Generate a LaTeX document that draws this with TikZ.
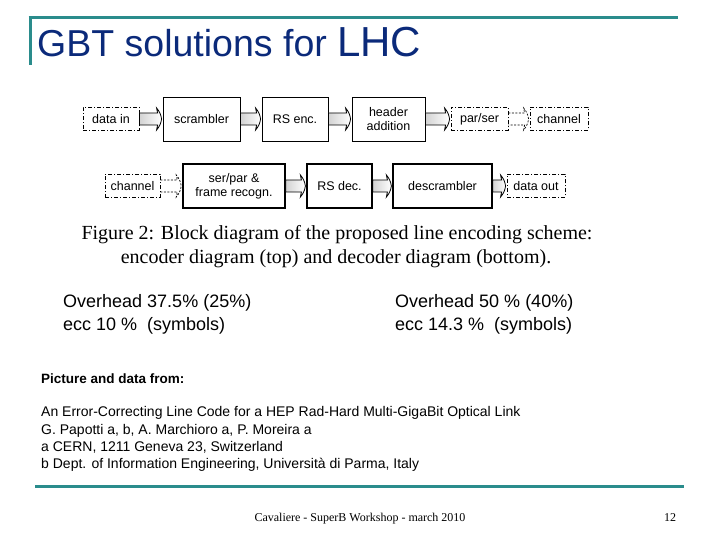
\documentclass[tikz,border=0pt]{standalone}
\usepackage{fontspec}
\setmainfont{Liberation Sans}
\newfontfamily\timesfont{Liberation Serif}
\usetikzlibrary{calc}

\definecolor{slideteal}{HTML}{2A8C8C}
\definecolor{titleblue}{HTML}{0B2A7A}

\tikzset{
  blk/.style={draw, line width=0.8pt, minimum height=44pt, inner sep=0pt,
    font=\fontsize{12.5}{14}\selectfont, align=center},
  dblk/.style={blk, dash pattern=on 4pt off 2pt on 1pt off 2pt, minimum height=23pt},
  blockarrow/.style={draw, line width=0.8pt, left color=gray!35, middle color=white, right color=white},
  dasharrow/.style={draw, line width=0.7pt, dash pattern=on 2pt off 1.5pt},
  txt/.style={anchor=base west, inner sep=0pt},
}

% hollow block arrow from one box to the next
\newcommand{\blockarr}[2]{%
  \draw[blockarrow] ($(#1.east)+(0,-6)$) -- ($(#2.west)+(-5,-6)$)
    -- ($(#2.west)+(-6,-11)$) to[bend left=15] ($(#2.west)+(-1,0)$)
    to[bend left=15] ($(#2.west)+(-6,11)$)
    -- ($(#2.west)+(-5,6)$) -- ($(#1.east)+(0,6)$) -- cycle;}
% dashed version, for the serial link
\newcommand{\dasharr}[2]{%
  \draw[dasharrow] ($(#1.east)+(0,-6)$) -- ($(#2.west)+(-5,-6)$)
    -- ($(#2.west)+(-6,-11)$) to[bend left=15] ($(#2.west)+(-1,0)$)
    to[bend left=15] ($(#2.west)+(-6,11)$)
    -- ($(#2.west)+(-5,6)$) -- ($(#1.east)+(0,6)$);}

\begin{document}
\begin{tikzpicture}[x=1pt,y=-1pt]
    \useasboundingbox (0,0) rectangle (720,540);

    % draw frame lines
    \draw[slideteal, line width=3pt] (28.5,18) -- (678,18);
    \draw[slideteal, line width=3pt] (30,16.5) -- (30,65);
    \draw[slideteal, line width=3pt] (35,486) -- (684,486);

    % title
    \node[txt, text=titleblue, font=\fontsize{37.5}{40}\selectfont] (title) at (37,57)
      {GBT solutions for \fontsize{42}{44}\selectfont LHC};

    % encoder (top row)
    \node[dblk, minimum width=56pt] (datain) at (111,119) {data in};
    \node[blk, minimum width=77pt] (scr) at (201.5,119) {scrambler};
    \node[blk, minimum width=66pt] (rsenc) at (295,119) {RS enc.};
    \node[blk, minimum width=73pt] (hdr) at (388.5,119) {header\\addition};
    \node[dblk, minimum width=57pt] (parser) at (479.5,119) {par/ser};
    \node[dblk, minimum width=58pt] (chout) at (559,119) {channel};

    % decoder (bottom row)
    \node[dblk, minimum width=55pt] (chin) at (132.5,186) {channel};
    \node[blk, line width=1.5pt, minimum width=102pt] (serpar) at (234,186) {ser/par \&\\frame recogn.};
    \node[blk, line width=1.2pt, minimum width=65pt] (rsdec) at (339.5,186) {RS dec.};
    \node[blk, line width=1.2pt, minimum width=99pt] (descr) at (442.5,186) {descrambler};
    \node[dblk, minimum width=58pt] (dataout) at (536,186) {data out};

    % draw arrows
    \blockarr{datain}{scr}
    \blockarr{scr}{rsenc}
    \blockarr{rsenc}{hdr}
    \blockarr{hdr}{parser}
    \dasharr{parser}{chout}
    \dasharr{chin}{serpar}
    \blockarr{serpar}{rsdec}
    \blockarr{rsdec}{descr}
    \blockarr{descr}{dataout}

    % caption
    \node[anchor=base, inner sep=0pt, font=\timesfont\fontsize{20}{24}\selectfont] (cap1) at (337,240)
      {Figure 2: Block diagram of the proposed line encoding scheme:};
    \node[anchor=base, inner sep=0pt, font=\timesfont\fontsize{20}{24}\selectfont] (cap2) at (336,263)
      {encoder diagram (top) and decoder diagram (bottom).};

    % overhead figures
    \node[txt, font=\fontsize{18}{21}\selectfont] (ovl1) at (63,307) {Overhead 37.5\% (25\%)};
    \node[txt, font=\fontsize{18}{21}\selectfont] (ovl2) at (63,330) {ecc 10 \%\ \ (symbols)};
    \node[txt, font=\fontsize{18}{21}\selectfont] (ovr1) at (395,307) {Overhead 50 \% (40\%)};
    \node[txt, font=\fontsize{18}{21}\selectfont] (ovr2) at (395,330) {ecc 14.3 \%\ \ (symbols)};

    % source
    \node[txt, font=\bfseries\fontsize{13.5}{16}\selectfont] (src) at (41,383) {Picture and data from:};
    \node[txt, font=\fontsize{14}{16}\selectfont] (ref1) at (41,416)
      {An Error-Correcting Line Code for a HEP Rad-Hard Multi-GigaBit Optical Link};
    \node[txt, font=\fontsize{14}{16}\selectfont] (ref2) at (41,434)
      {G. Papotti a, b, A. Marchioro a, P. Moreira a};
    \node[txt, font=\fontsize{14}{16}\selectfont] (ref3) at (41,451)
      {a CERN, 1211 Geneva 23, Switzerland};
    \node[txt, font=\fontsize{14}{16}\selectfont] (ref4) at (41,468)
      {b Dept. of Information Engineering, Università di Parma, Italy};

    % footer
    \node[anchor=base, inner sep=0pt, font=\timesfont\fontsize{12}{14}\selectfont] (foot) at (360,521)
      {Cavaliere - SuperB Workshop - march 2010};
    \node[anchor=base, inner sep=0pt, font=\timesfont\fontsize{12}{14}\selectfont] (pg) at (670,521) {12};
\end{tikzpicture}
\end{document}
